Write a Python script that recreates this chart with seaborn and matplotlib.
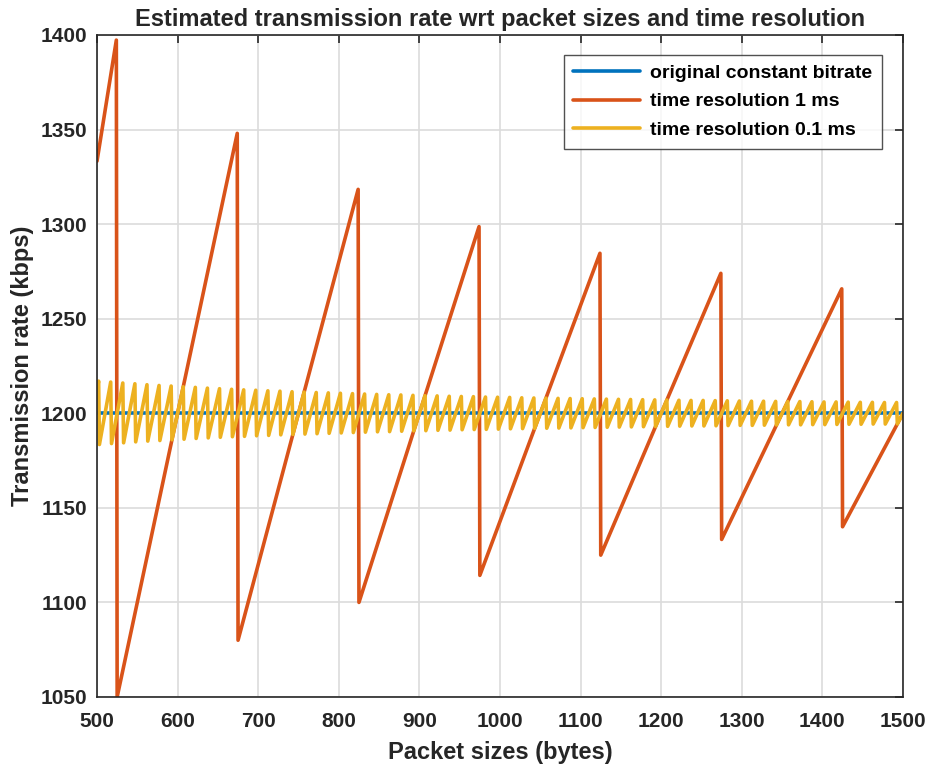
import numpy as np
import pandas as pd
import matplotlib
matplotlib.use('Agg')
import matplotlib.pyplot as plt
import seaborn as sns

# constant bitrate
blue_x = [500, 1500]
blue_y = [1200, 1200]

# 1 ms resolution: sawtooth vertices
red_x = [500, 524, 525, 674, 675, 824, 825, 974, 975, 1124, 1125, 1274, 1275, 1424, 1425, 1500]
red_y = [1333.3, 1397.3, 1050.0, 1348.0, 1080.0, 1318.4, 1100.0, 1298.7, 1114.3,
         1284.6, 1125.0, 1274.0, 1133.3, 1265.8, 1140.0, 1200.0]

# 0.1 ms resolution: tooth tops (before drop) and bottoms (after drop)
yel_start = (500, 1212.1)
yel_end = (1500, 1200.0)
yel_drop_x = [502, 517, 532, 547, 562, 577, 592, 607, 622, 637, 652, 667, 682, 697,
              712, 727, 742, 757, 772, 787, 802, 817, 832, 847, 862, 877, 892, 907,
              922, 937, 952, 967, 982, 997, 1012, 1027, 1042, 1057, 1072, 1087, 1102,
              1117, 1132, 1147, 1162, 1177, 1192, 1207, 1222, 1237, 1252, 1267, 1282,
              1297, 1312, 1327, 1342, 1357, 1372, 1387, 1402, 1417, 1432, 1447, 1462,
              1477, 1492]
yel_top = [1217.0, 1216.5, 1216.0, 1215.6, 1215.1, 1214.7, 1214.4, 1214.0, 1213.7,
           1213.3, 1213.0, 1212.7, 1212.4, 1212.2, 1211.9, 1211.7, 1211.4, 1211.2,
           1211.0, 1210.8, 1210.6, 1210.4, 1210.2, 1210.0, 1209.8, 1209.7, 1209.5,
           1209.3, 1209.2, 1209.0, 1208.9, 1208.8, 1208.6, 1208.5, 1208.4, 1208.2,
           1208.1, 1208.0, 1207.9, 1207.8, 1207.7, 1207.6, 1207.5, 1207.4, 1207.3,
           1207.2, 1207.1, 1207.0, 1206.9, 1206.8, 1206.8, 1206.7, 1206.6, 1206.5,
           1206.4, 1206.4, 1206.3, 1206.2, 1206.2, 1206.1, 1206.0, 1206.0, 1205.9,
           1205.8, 1205.8, 1205.7, 1205.7]
yel_bottom = [1183.5, 1184.0, 1184.4, 1184.9, 1185.3, 1185.6, 1186.0, 1186.3, 1186.7,
              1187.0, 1187.3, 1187.6, 1187.8, 1188.1, 1188.3, 1188.6, 1188.8, 1189.0,
              1189.2, 1189.4, 1189.6, 1189.8, 1190.0, 1190.2, 1190.3, 1190.5, 1190.7,
              1190.8, 1191.0, 1191.1, 1191.3, 1191.4, 1191.5, 1191.6, 1191.8, 1191.9,
              1192.0, 1192.1, 1192.2, 1192.3, 1192.4, 1192.5, 1192.6, 1192.7, 1192.8,
              1192.9, 1193.0, 1193.1, 1193.2, 1193.3, 1193.3, 1193.4, 1193.5, 1193.6,
              1193.6, 1193.7, 1193.8, 1193.9, 1193.9, 1194.0, 1194.0, 1194.1, 1194.2,
              1194.2, 1194.3, 1194.3, 1194.4]

yel_x = [yel_start[0]]
yel_y = [yel_start[1]]
for x, t, b in zip(yel_drop_x, yel_top, yel_bottom):
    yel_x += [x, x + 1]
    yel_y += [t, b]
yel_x.append(yel_end[0])
yel_y.append(yel_end[1])

sns.set_style('white')
plt.rcParams['font.family'] = ['Liberation Sans', 'DejaVu Sans']
plt.rcParams['font.weight'] = 'bold'

fig = plt.figure(figsize=(9.27, 7.69), dpi=100)
ax = fig.add_axes([97/927, 1 - 697/769, (903-97)/927, (697-35)/769])

lw = 2.6
sns.lineplot(x=blue_x, y=blue_y, color='#0072BD', lw=lw, label='original constant bitrate',
             estimator=None, sort=False, ax=ax)
sns.lineplot(x=red_x, y=red_y, color='#D95319', lw=lw, label='time resolution 1 ms',
             estimator=None, sort=False, ax=ax)
sns.lineplot(x=yel_x, y=yel_y, color='#EDB120', lw=lw, label='time resolution 0.1 ms',
             estimator=None, sort=False, ax=ax)

ax.set_xlim(500, 1500)
ax.set_ylim(1050, 1400)
ax.set_xticks(np.arange(500, 1501, 100))
ax.set_yticks(np.arange(1050, 1401, 50))
ax.grid(True, color='#dcdcdc', lw=1.2)
ax.set_axisbelow(True)
for s in ax.spines.values():
    s.set_color('#262626')
    s.set_linewidth(1.2)
ax.tick_params(direction='in', length=6, width=1.2, color='#262626',
               top=True, right=True, labelsize=15, labelcolor='#262626', pad=7)
ax.tick_params(axis='x', pad=11)
for lab in ax.get_xticklabels() + ax.get_yticklabels():
    lab.set_fontweight('bold')

ax.set_xlabel('Packet sizes (bytes)', fontsize=17, fontweight='bold', color='#262626', labelpad=7)
ax.set_ylabel('Transmission rate (kbps)', fontsize=17, fontweight='bold', color='#262626', labelpad=5)
ax.set_title('Estimated transmission rate wrt packet sizes and time resolution',
             fontsize=17, fontweight='bold', pad=6.5)

leg = ax.legend(loc='upper right', bbox_to_anchor=(0.974, 0.970), borderaxespad=0,
                fontsize=14, frameon=True, fancybox=False, edgecolor='#262626',
                handlelength=3.45, borderpad=0.5, labelspacing=0.55, handletextpad=0.5)
leg.get_frame().set_linewidth(1.0)
for t in leg.get_texts():
    t.set_fontweight('bold')
    t.set_color('black')

fig.savefig('out.png', dpi=100)
